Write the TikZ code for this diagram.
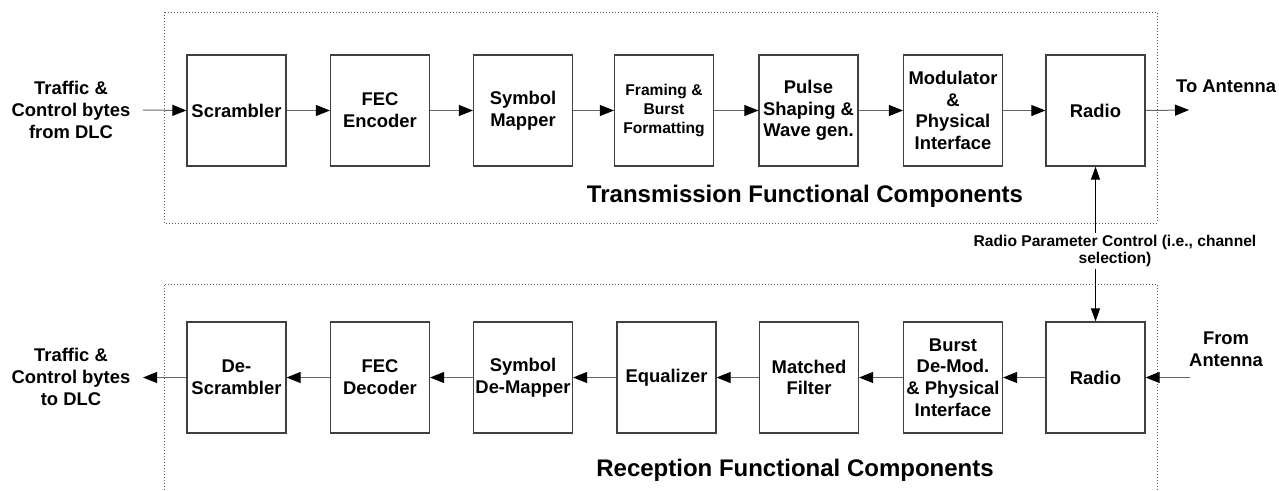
\documentclass[tikz,border=0pt]{standalone}
\usepackage{fontspec}
\setmainfont{Liberation Sans}
\usetikzlibrary{arrows.meta}
\definecolor{boxline}{gray}{0.25}
\definecolor{arrline}{gray}{0.4}
\definecolor{frameline}{gray}{0.35}
\tikzset{
  blk/.style={draw=boxline, line width=1.2pt, minimum width=99pt, minimum height=111pt,
    inner sep=0pt, align=center, font=\fontsize{18.4}{21.7}\selectfont\bfseries},
  lbl/.style={align=center, inner sep=0pt, font=\fontsize{18.4}{21.7}\selectfont\bfseries},
  flow/.style={draw=arrline, line width=1pt, -{Triangle[length=14pt,width=11pt,color=black]}},
  frame/.style={draw=frameline, line width=1pt, dotted},
  title/.style={inner sep=0pt, font=\fontsize{24}{28}\selectfont\bfseries}
}
\begin{document}
\begin{tikzpicture}[x=1pt,y=-1pt]
\useasboundingbox (0,0) rectangle (1279,490);
% frames
\draw[frame] (164,12) rectangle (1157,223);
\draw[frame] (164,490) -- (164,284) -- (1157,284) -- (1157,490);
% top row
\node[blk] (scr) at (236.5,110.5) {Scrambler};
\node[blk] (fec) at (380,110.5) {FEC\\Encoder};
\node[blk] (sym) at (523,110.5) {Symbol\\Mapper};
\node[blk, font=\fontsize{15.6}{19}\selectfont\bfseries] (frm) at (664,110.5) {Framing \&\\Burst\\Formatting};
\node[blk] (pul) at (808.5,110.5) {Pulse\\Shaping \&\\Wave gen.};
\node[blk] (mod) at (953,110.5) {Modulator\\\&\\Physical\\Interface};
\node[blk] (rt) at (1095.5,110.5) {Radio};
% bottom row
\node[blk] (dsc) at (236.5,377.5) {De-\\Scrambler};
\node[blk] (fed) at (380,377.5) {FEC\\Decoder};
\node[blk] (sdm) at (523,377.5) {Symbol\\De-Mapper};
\node[blk] (equ) at (666.5,377.5) {Equalizer};
\node[blk] (mat) at (809,377.5) {Matched\\Filter};
\node[blk] (bur) at (953,377.5) {Burst\\De-Mod.\\\& Physical\\Interface};
\node[blk] (rr) at (1095.5,377.5) {Radio};
% external labels
\node[lbl] (tin) at (71,110) {Traffic \&\\Control bytes\\from DLC};
\node[lbl] (tout) at (71,377) {Traffic \&\\Control bytes\\to DLC};
\node[lbl, anchor=west] (ant) at (1176,86) {To Antenna};
\node[lbl] (fant) at (1226,349) {From\\Antenna};
\coordinate (inpt) at (143,110);
\coordinate (outpt) at (1189,110);
\coordinate (rin) at (1190,377.5);
\coordinate (lout) at (143,377.5);
% top flows
\draw[flow] (inpt) -- (scr.west);
\draw[flow] (scr) -- (fec);
\draw[flow] (fec) -- (sym);
\draw[flow] (sym) -- (frm);
\draw[flow] (frm) -- (pul);
\draw[flow] (pul) -- (mod);
\draw[flow] (mod) -- (rt);
\draw[flow] (rt.east) -- (outpt);
% bottom flows
\draw[flow] (rin) -- (rr.east);
\draw[flow] (rr) -- (bur);
\draw[flow] (bur) -- (mat);
\draw[flow] (mat) -- (equ);
\draw[flow] (equ) -- (sdm);
\draw[flow] (sdm) -- (fed);
\draw[flow] (fed) -- (dsc);
\draw[flow] (dsc.west) -- (lout);
% radio parameter control
\draw[draw=black, line width=0.9pt, {Triangle[length=13pt,width=9pt,color=black]}-{Triangle[length=13pt,width=9pt,color=black]}] (rt.south) -- (rr.north);
\node[fill=white, align=center, inner sep=2pt, font=\fontsize{15.6}{17.5}\selectfont\bfseries] (rpc) at (1115,251) {Radio Parameter Control (i.e., channel\\selection)};
% titles
\node[title] (ttx) at (805,196) {Transmission Functional Components};
\node[title] (trx) at (795,470) {Reception Functional Components};
\end{tikzpicture}
\end{document}
